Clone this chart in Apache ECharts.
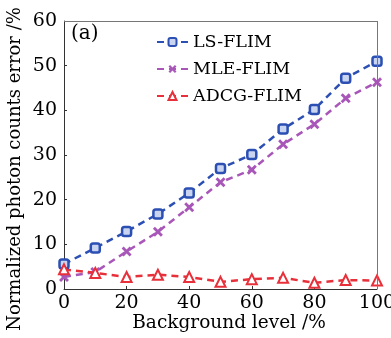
<!DOCTYPE html>
<html>
<head>
<meta charset="utf-8">
<script src="https://cdn.jsdelivr.net/npm/echarts@6/dist/echarts.min.js"></script>
<style>
  html, body { margin: 0; padding: 0; background: #fff; }
  #chart { width: 391px; height: 338px; }
</style>
</head>
<body>
<div id="chart"></div>
<script>
const background = [0, 10, 20, 30, 40, 50, 60, 70, 80, 90, 100];
const lsFlim = [5.6, 9.2, 12.9, 16.8, 21.5, 27.0, 30.1, 35.8, 40.2, 47.2, 51.0];
const mleFlim = [2.7, 3.8, 8.4, 12.8, 18.3, 23.9, 26.7, 32.4, 36.9, 42.7, 46.3];
const adcgFlim = [4.4, 3.6, 2.7, 3.2, 2.7, 1.6, 2.2, 2.5, 1.4, 2.0, 1.9];

const font = "DejaVu Serif";
const crossPath = "path://M2,0L5,3L8,0L10,2L7,5L10,8L8,10L5,7L2,10L0,8L3,5L0,2Z";

function pairs(ys) {
  return background.map((x, i) => [x, ys[i]]);
}

const chart = echarts.init(document.getElementById("chart"));
chart.setOption({
  animation: false,
  grid: { left: 64, right: 14, top: 21, bottom: 49, containLabel: false, outerBoundsMode: "none" },
  legend: {
    left: 151, top: 28, orient: "vertical",
    itemWidth: 31, itemHeight: 10, itemGap: 9,
    textStyle: { fontFamily: font, fontSize: 17.5, color: "#000" },
    data: ["LS-FLIM", "MLE-FLIM", "ADCG-FLIM"]
  },
  graphic: [
    {
      type: "text", left: 71, top: 24,
      style: { text: "(a)", font: "20px " + font, fill: "#000" }
    },
    {
      type: "text", x: 229, y: 323,
      style: { text: "Background level /%", font: "18.5px " + font, fill: "#000", align: "center", verticalAlign: "middle" }
    },
    {
      type: "text", x: 15, y: 169, rotation: Math.PI / 2,
      style: { text: "Normalized photon counts error /%", font: "18px " + font, fill: "#000", align: "center", verticalAlign: "middle" }
    }
  ],
  xAxis: {
    type: "value", min: 0, max: 100, interval: 20,
    axisLine: { lineStyle: { color: "#333" } },
    axisTick: { inside: true, length: 3, lineStyle: { color: "#333" } },
    axisLabel: { fontFamily: font, fontSize: 19, color: "#000", margin: 5 },
    splitLine: { show: false }
  },
  yAxis: {
    type: "value", min: 0, max: 60, interval: 10,
    axisLine: { show: true, lineStyle: { color: "#333" } },
    axisTick: { show: true, inside: true, length: 3, lineStyle: { color: "#333" } },
    axisLabel: { fontFamily: font, fontSize: 19, color: "#000", margin: 7 },
    splitLine: { show: false }
  },
  series: [
    {
      name: "LS-FLIM", type: "line", data: pairs(lsFlim),
      symbol: "roundRect", symbolSize: 9,
      lineStyle: { color: "#2b4fb3", width: 2.5, type: [7, 5] },
      itemStyle: { color: "#c9d4f0", borderColor: "#2b4fb3", borderWidth: 2.5 }
    },
    {
      name: "MLE-FLIM", type: "line", data: pairs(mleFlim),
      symbol: crossPath, symbolSize: 10,
      lineStyle: { color: "#a857b8", width: 2.5, type: [7, 5] },
      itemStyle: { color: "#a857b8" }
    },
    {
      name: "ADCG-FLIM", type: "line", data: pairs(adcgFlim),
      symbol: "triangle", symbolSize: 10,
      lineStyle: { color: "#e8303a", width: 2.5, type: [7, 5] },
      itemStyle: { color: "#fff", borderColor: "#e8303a", borderWidth: 2 }
    },
    {
      type: "line", data: [], silent: true,
      markLine: {
        silent: true, symbol: "none", label: { show: false },
        lineStyle: { color: "#777", width: 1, type: "solid" },
        data: [
          [{ coord: [0, 60] }, { coord: [100, 60] }],
          [{ coord: [100, 0] }, { coord: [100, 60] }]
        ]
      }
    }
  ]
});
</script>
</body>
</html>
